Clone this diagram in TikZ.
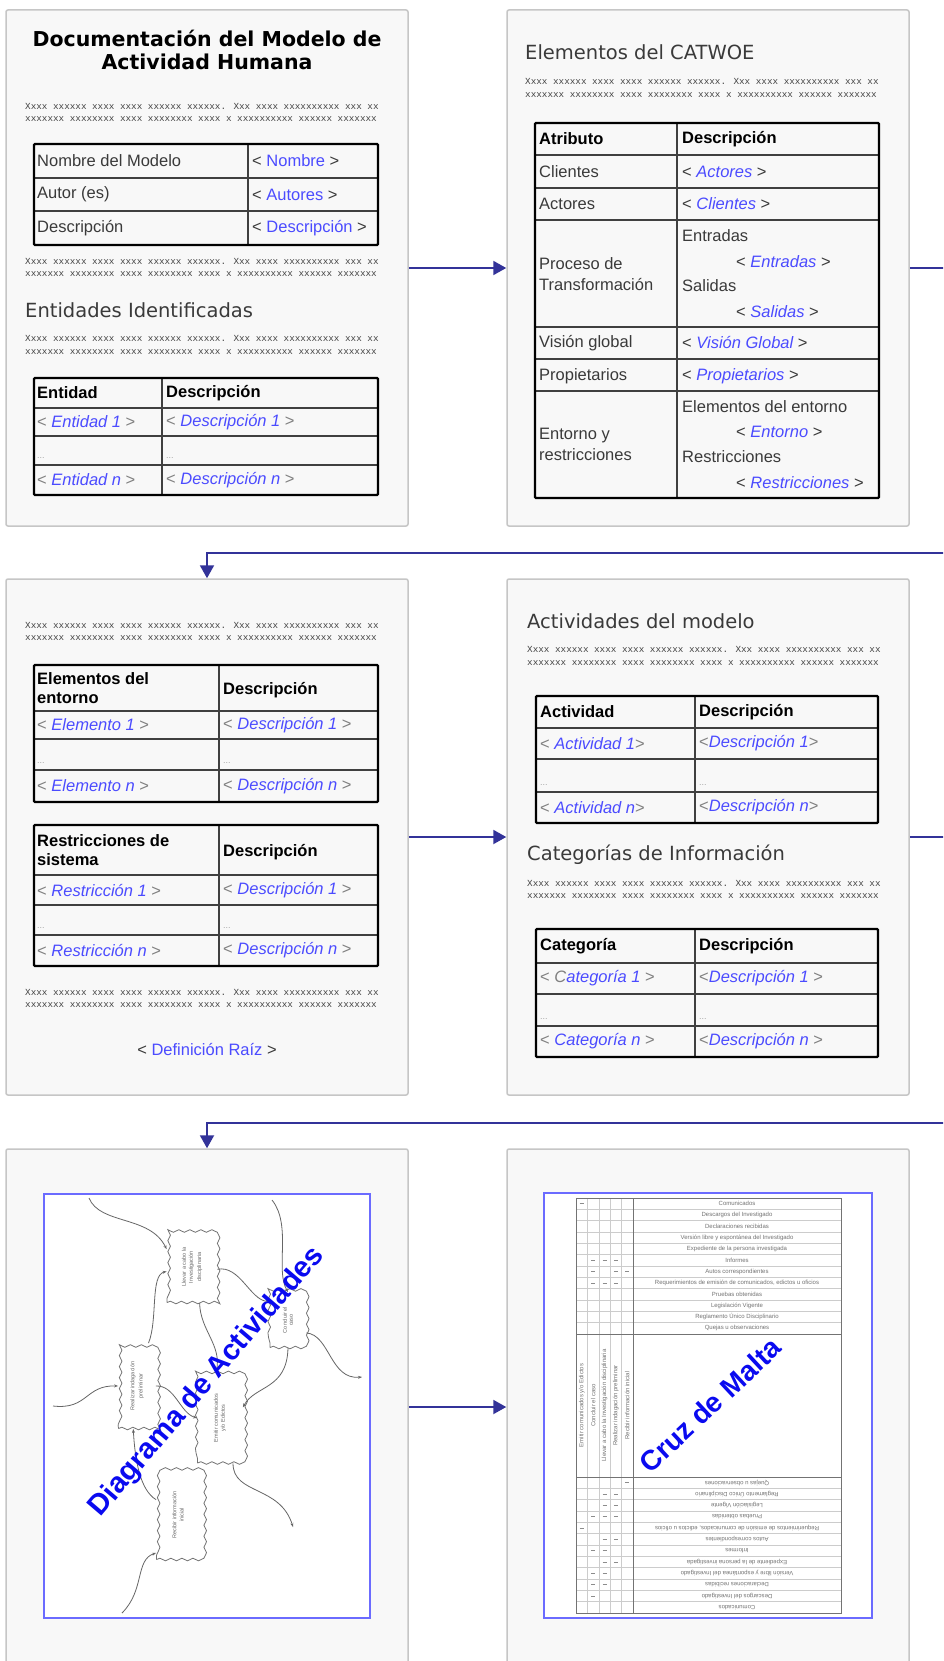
\documentclass[tikz,border=0pt]{standalone}
\usepackage{fontspec}
\setmainfont{Liberation Sans}
\newfontfamily\verdana{DejaVu Sans}
\newfontfamily\fillfont{Liberation Mono}
\usetikzlibrary{arrows.meta}
\usetikzlibrary{decorations.pathmorphing}

\definecolor{flowblue}{HTML}{333399}
\definecolor{phblue}{HTML}{4B4BFF}
\definecolor{pagegray}{HTML}{F8F8F8}
\definecolor{pageline}{HTML}{C6C6C6}
\definecolor{txtgray}{HTML}{3A3A3A}
\definecolor{tagray}{HTML}{808080}
\definecolor{fillgray}{HTML}{444444}
\definecolor{frameblue}{HTML}{6B6BFF}
\definecolor{bigblue}{HTML}{0A0AF0}

\newcommand{\ltag}{{\color{tagray}<}}
\newcommand{\rtag}{{\color{tagray}>}}
\newcommand{\ph}[1]{{\color{phblue}\itshape #1}}
\newcommand{\phup}[1]{{\color{txtgray}<} {\color{phblue}#1} {\color{txtgray}>}}
\newcommand{\phcat}[1]{{\color{txtgray}<} \ph{#1} {\color{txtgray}>}}
\newcommand{\fillerxx}{Xxxx xxxxxx xxxx xxxx xxxxxx xxxxxx. Xxx xxxx xxxxxxxxxx xxx xx\\xxxxxxx xxxxxxxx xxxx xxxxxxxx xxxx x xxxxxxxxxx xxxxxx xxxxxxx}

\tikzset{
page/.style = {rectangle, draw = pageline, fill = pagegray, line width = 1.5pt, rounded corners = 2pt, minimum width = 402pt, minimum height = 516pt},
flow/.style = {draw = flowblue, line width = 2pt, -{Triangle[length = 13pt, width = 14pt]}},
title/.style = {align = center, inner sep = 0pt, font = \verdana\bfseries\fontsize{20.5}{23}\selectfont, text = black},
sechead/.style = {anchor = west, inner sep = 0pt, font = \verdana\fontsize{19.5}{22}\selectfont, text = txtgray},
filler/.style = {anchor = west, align = left, inner sep = 0pt, font = \fillfont\fontsize{9.3}{12.5}\selectfont, text = fillgray},
cell/.style = {anchor = west, align = left, inner sep = 0pt, font = \fontsize{16.5}{20.5}\selectfont, text = txtgray},
headcell/.style = {cell, font = \bfseries\fontsize{16.5}{19}\selectfont, text = black},
dots/.style = {anchor = west, inner sep = 0pt, font = \fontsize{9}{9}\selectfont, text = black!35},
tframe/.style = {draw = black, line width = 2.4pt, rounded corners = 1pt},
tline/.style = {draw = black!75, line width = 1.4pt},
frame/.style = {draw = frameblue, fill = white, line width = 1.3pt},
actbox/.style = {rectangle, draw = black!55, fill = white, line width = 0.8pt, inner sep = 2pt, decorate, decoration = {snake, amplitude = 1.3pt, segment length = 11pt}, font = \fontsize{5.5}{6.5}\selectfont, text = black!60},
actflow/.style = {draw = black!60, line width = 0.8pt, -{Stealth[length = 4pt, width = 3pt]}},
bigtag/.style = {inner sep = 0pt, font = \bfseries\fontsize{29}{29}\selectfont, text = bigblue},
cruzrow/.style = {inner sep = 0pt, font = \fontsize{6}{6}\selectfont, text = black!55},
cruzthin/.style = {draw = black!20, line width = 0.5pt},
cruzline/.style = {draw = black!55, line width = 1pt},
cruzmark/.style = {draw = black!45, line width = 0.6pt},
}

\begin{document}
\begin{tikzpicture}[x = 1pt, y = -1pt]
    \useasboundingbox (0, 0) rectangle (943, 1661);
    \clip (0, 0) rectangle (943, 1661);
    \fill[white] (0, 0) rectangle (943, 1661);

    % pages
    \node[page] (doc) at (207, 268) {};
    \node[page] (catwoe) at (708, 268) {};
    \node[page] (entorno) at (207, 837) {};
    \node[page] (activ) at (708, 837) {};
    \node[page] (diagrama) at (207, 1407) {};
    \node[page] (cruz) at (708, 1407) {};

    % flow between pages
    \coordinate (wrap1) at (207, 553);
    \coordinate (wrap2) at (207, 1123);
    \draw[flow] (doc.east) -- (catwoe.west);
    \draw[flow] (catwoe.east) -- ++(50, 0) |- (wrap1) -- (entorno.north);
    \draw[flow] (entorno.east) -- (activ.west);
    \draw[flow] (activ.east) -- ++(50, 0) |- (wrap2) -- (diagrama.north);
    \draw[flow] (diagrama.east) -- (cruz.west);

    % ---- page 1
    \node[title] (doctitle) at (207, 49.5) {Documentación del Modelo de\\Actividad Humana};
    \node[filler] (docfill1) at (25, 112.5) {\fillerxx};
    \draw[tline] (248, 144) -- (248, 245);
    \draw[tline] (34, 178) -- (378, 178);
    \draw[tline] (34, 211) -- (378, 211);
    \draw[tframe] (34, 144) rectangle (378, 245);
    \node[cell] (mnom) at (37, 161) {Nombre del Modelo};
    \node[cell] (mnomv) at (252, 161) {\phup{Nombre}};
    \node[cell] (maut) at (37, 194.5) {Autor (es)};
    \node[cell] (mautv) at (252, 194.5) {\phup{Autores}};
    \node[cell] (mdes) at (37, 228) {Descripción};
    \node[cell] (mdesv) at (252, 228) {\phup{Descripción}};
    \node[filler] (docfill2) at (25, 267.5) {\fillerxx};
    \node[sechead] (enthead) at (25, 310) {Entidades Identificadas};
    \node[filler] (docfill3) at (25, 345) {\fillerxx};
    \draw[tline] (162, 378) -- (162, 495);
    \draw[tline] (34, 408) -- (378, 408);
    \draw[tline] (34, 436) -- (378, 436);
    \draw[tline] (34, 465) -- (378, 465);
    \draw[tframe] (34, 378) rectangle (378, 495);
    \node[headcell] (enth1) at (37, 393) {Entidad};
    \node[headcell] (enth2) at (166, 393) {Descripción};
    \node[cell] (ent1) at (37, 422) {\ltag{} \ph{Entidad 1} \rtag};
    \node[cell] (ent1d) at (166, 422) {\ltag{} \ph{Descripción 1} \rtag};
    \node[dots] (entdots) at (37, 458) {...};
    \node[dots] (entdotsd) at (166, 458) {...};
    \node[cell] (entn) at (37, 480) {\ltag{} \ph{Entidad n} \rtag};
    \node[cell] (entnd) at (166, 480) {\ltag{} \ph{Descripción n} \rtag};

    % ---- page 2
    \node[sechead] (cathead) at (525, 52) {Elementos del CATWOE};
    \node[filler] (catfill) at (525, 88) {\fillerxx};
    \draw[tline] (677, 123) -- (677, 498);
    \foreach \yy in {155, 188, 220, 327, 359, 391}
        \draw[tline] (535, \yy) -- (879, \yy);
    \draw[tframe] (535, 123) rectangle (879, 498);
    \node[headcell] (cath1) at (539, 139) {Atributo};
    \node[headcell] (cath2) at (682, 139) {Descripción};
    \node[cell] (catc) at (539, 171.5) {Clientes};
    \node[cell] (catcv) at (682, 171.5) {\phcat{Actores}};
    \node[cell] (cata) at (539, 204) {Actores};
    \node[cell] (catav) at (682, 204) {\phcat{Clientes}};
    \node[cell] (catt) at (539, 274) {Proceso de\\Transformación};
    \node[cell] (catt1) at (682, 236) {Entradas};
    \node[cell] (catt1v) at (736, 262) {\phcat{Entradas}};
    \node[cell] (catt2) at (682, 286) {Salidas};
    \node[cell] (catt2v) at (736, 312) {\phcat{Salidas}};
    \node[cell] (catw) at (539, 343) {Visión global};
    \node[cell] (catwv) at (682, 343) {\phcat{Visión Global}};
    \node[cell] (cato) at (539, 376) {Propietarios};
    \node[cell] (catov) at (682, 376) {\phcat{Propietarios}};
    \node[cell] (cate) at (539, 444.5) {Entorno y\\restricciones};
    \node[cell] (cate1) at (682, 407) {Elementos del entorno};
    \node[cell] (cate1v) at (736, 432) {\phcat{Entorno}};
    \node[cell] (cate2) at (682, 457) {Restricciones};
    \node[cell] (cate2v) at (736, 483) {\phcat{Restricciones}};

    % ---- page 3
    \node[filler] (envfill1) at (25, 631.5) {\fillerxx};
    \draw[tline] (219, 665) -- (219, 802);
    \draw[tline] (34, 711) -- (378, 711);
    \draw[tline] (34, 739) -- (378, 739);
    \draw[tline] (34, 770) -- (378, 770);
    \draw[tframe] (34, 665) rectangle (378, 802);
    \node[headcell] (elh1) at (37, 688) {Elementos del\\entorno};
    \node[headcell] (elh2) at (223, 690) {Descripción};
    \node[cell] (el1) at (37, 725) {\ltag{} \ph{Elemento 1} \rtag};
    \node[cell] (el1d) at (223, 725) {\ltag{} \ph{Descripción 1} \rtag};
    \node[dots] (eldots) at (37, 763) {...};
    \node[dots] (eldotsd) at (223, 763) {...};
    \node[cell] (eln) at (37, 786) {\ltag{} \ph{Elemento n} \rtag};
    \node[cell] (elnd) at (223, 786) {\ltag{} \ph{Descripción n} \rtag};
    \draw[tline] (219, 825) -- (219, 966);
    \draw[tline] (34, 875) -- (378, 875);
    \draw[tline] (34, 905) -- (378, 905);
    \draw[tline] (34, 935) -- (378, 935);
    \draw[tframe] (34, 825) rectangle (378, 966);
    \node[headcell] (rsh1) at (37, 850) {Restricciones de\\sistema};
    \node[headcell] (rsh2) at (223, 852) {Descripción};
    \node[cell] (rs1) at (37, 890) {\ltag{} \ph{Restricción 1} \rtag};
    \node[cell] (rs1d) at (223, 890) {\ltag{} \ph{Descripción 1} \rtag};
    \node[dots] (rsdots) at (37, 928) {...};
    \node[dots] (rsdotsd) at (223, 928) {...};
    \node[cell] (rsn) at (37, 950.5) {\ltag{} \ph{Restricción n} \rtag};
    \node[cell] (rsnd) at (223, 950.5) {\ltag{} \ph{Descripción n} \rtag};
    \node[filler] (envfill2) at (25, 998.5) {\fillerxx};
    \node[cell, anchor = center] (raiz) at (207, 1049) {\phup{Definición Raíz}};

    % ---- page 4
    \node[sechead] (acthead) at (527, 621) {Actividades del modelo};
    \node[filler] (actfill) at (527, 656) {\fillerxx};
    \draw[tline] (695, 696) -- (695, 823);
    \draw[tline] (536, 728) -- (878, 728);
    \draw[tline] (536, 759) -- (878, 759);
    \draw[tline] (536, 792) -- (878, 792);
    \draw[tframe] (536, 696) rectangle (878, 823);
    \node[headcell] (acth1) at (540, 712) {Actividad};
    \node[headcell] (acth2) at (699, 712) {Descripción};
    \node[cell] (act1) at (540, 743.5) {\ltag{} \ph{Actividad 1}\rtag};
    \node[cell] (act1d) at (699, 743.5) {\ltag\ph{Descripción 1}\rtag};
    \node[dots] (actdots) at (540, 785) {...};
    \node[dots] (actdotsd) at (699, 785) {...};
    \node[cell] (actn) at (540, 807.5) {\ltag{} \ph{Actividad n}\rtag};
    \node[cell] (actnd) at (699, 807.5) {\ltag\ph{Descripción n}\rtag};
    \node[sechead] (cathd) at (527, 855) {Categorías de Información};
    \node[filler] (catgfill) at (527, 889.5) {\fillerxx};
    \draw[tline] (695, 929) -- (695, 1057);
    \draw[tline] (536, 963) -- (878, 963);
    \draw[tline] (536, 994) -- (878, 994);
    \draw[tline] (536, 1026) -- (878, 1026);
    \draw[tframe] (536, 929) rectangle (878, 1057);
    \node[headcell] (catgh1) at (540, 946) {Categoría};
    \node[headcell] (catgh2) at (699, 946) {Descripción};
    \node[cell] (catg1) at (540, 978.5) {\ltag{} {\color{tagray}\itshape C}\ph{ategoría 1} \rtag};
    \node[cell] (catg1d) at (699, 978.5) {\ltag\ph{Descripción 1} \rtag};
    \node[dots] (catgdots) at (540, 1019) {...};
    \node[dots] (catgdotsd) at (699, 1019) {...};
    \node[cell] (catgn) at (540, 1041.5) {\ltag{} \ph{Categoría n} \rtag};
    \node[cell] (catgnd) at (699, 1041.5) {\ltag\ph{Descripción n} \rtag};

    % ---- page 5: activity diagram
    \draw[frame] (44, 1194) rectangle (370, 1618);
    \node[actbox, minimum width = 50pt, minimum height = 71pt] (b1) at (192, 1267) {\rotatebox{90}{\shortstack{Llevar a cabo la\\Investigación\\disciplinaria}}};
    \node[actbox, minimum width = 36pt, minimum height = 55pt] (b2) at (288, 1320) {\rotatebox{90}{\shortstack{Concluir el\\caso}}};
    \node[actbox, minimum width = 37pt, minimum height = 85pt] (b3) at (137, 1386) {\rotatebox{90}{\shortstack{Realizar indagación\\preliminar}}};
    \node[actbox, minimum width = 45pt, minimum height = 90pt] (b4) at (220, 1418) {\rotatebox{90}{\shortstack{Emitir comunicados\\y/o Edictos}}};
    \node[actbox, minimum width = 43pt, minimum height = 89pt] (b5) at (178, 1515) {\rotatebox{90}{\shortstack{Recibir información\\inicial}}};
    \coordinate (in1) at (89, 1198);
    \coordinate (in2) at (272, 1200);
    \coordinate (in3) at (53, 1406);
    \coordinate (in4) at (122, 1613);
    \coordinate (out1) at (362, 1377);
    \coordinate (out2) at (293, 1527);
    \draw[actflow] (in1) .. controls (100, 1225) and (150, 1215) .. (b1.145);
    \draw[actflow] (in2) .. controls (292, 1225) and (275, 1270) .. (b2.north);
    \draw[actflow] (b1.-5) .. controls (240, 1265) and (250, 1300) .. (b2.135);
    \draw[actflow] (b1.-78) .. controls (200, 1330) and (222, 1345) .. (b4.95);
    \draw[actflow] (b3.75) .. controls (158, 1320) and (150, 1275) .. (b1.190);
    \draw[actflow] (in3) .. controls (88, 1410) and (85, 1385) .. (b3.west);
    \draw[actflow] (b3.east) .. controls (175, 1385) and (180, 1413) .. (b4.west);
    \draw[actflow] (b2.-35) .. controls (330, 1335) and (330, 1380) .. (out1);
    \draw[actflow] (b2.south) .. controls (287, 1390) and (255, 1385) .. (b4.25);
    \draw[actflow] (b4.-74) .. controls (233, 1495) and (280, 1485) .. (out2);
    \draw[actflow] (b5.145) .. controls (140, 1490) and (135, 1460) .. (b3.-95);
    \draw[actflow] (in4) .. controls (145, 1590) and (135, 1560) .. (b5.240);
    \node[bigtag, rotate = 49.5] (diagtag) at (207, 1382) {Diagrama de Actividades};

    % ---- page 6: cruz de malta
    \draw[frame] (544, 1193) rectangle (872, 1618);
    \foreach \i in {1, ..., 11} {
        \draw[cruzthin] (576, {1198 + \i * 11.33}) -- (841, {1198 + \i * 11.33});
        \draw[cruzthin] (576, {1477 + \i * 11.33}) -- (841, {1477 + \i * 11.33});
    }
    \foreach \c in {1, ..., 4}
        \draw[cruzthin] ({576 + \c * 11.4}, 1198) -- ({576 + \c * 11.4}, 1613);
    \draw[cruzline] (633, 1198) -- (633, 1613);
    \draw[cruzline] (576, 1334) -- (841, 1334);
    \draw[cruzline] (576, 1477) -- (841, 1477);
    \draw[cruzline] (576, 1198) rectangle (841, 1613);
    \foreach \lbl [count = \i] in {Comunicados, Descargos del Investigado, Declaraciones recibidas, Versión libre y espontánea del Investigado, Expediente de la persona investigada, Informes, Autos correspondientes, {Requerimientos de emisión de comunicados, edictos u oficios}, Pruebas obtenidas, Legislación Vigente, Reglamento Único Disciplinario, Quejas u observaciones} {
        \node[cruzrow] (top\i) at (737, {1198 + (\i - 0.5) * 11.33}) {\lbl};
        \node[cruzrow, rotate = 180] (bot\i) at (737, {1613 - (\i - 0.5) * 11.33}) {\lbl};
    }
    \foreach \lbl [count = \c] in {Emitir comunicados y/o Edictos, Concluir el caso, Llevar a cabo la Investigación disciplinaria, Realizar indagación preliminar, Recibir información inicial}
        \node[cruzrow, rotate = 90] (col\c) at ({576 + (\c - 0.5) * 11.4}, 1405.5) {\lbl};
    \foreach \r/\c in {1/1, 6/2, 6/3, 6/4, 7/2, 7/4, 7/5, 8/2, 8/3, 8/4}
        \draw[cruzmark] ({576 + (\c - 0.5) * 11.4 - 2}, {1198 + (\r - 0.5) * 11.33}) -- ++(4, 0);
    \foreach \r/\c in {2/2, 3/2, 3/3, 4/2, 4/3, 5/3, 5/4, 6/2, 6/3, 7/3, 7/4, 8/1, 9/2, 9/3, 9/4, 10/3, 10/4, 11/3, 11/4, 12/5}
        \draw[cruzmark] ({576 + (\c - 0.5) * 11.4 - 2}, {1613 - (\r - 0.5) * 11.33}) -- ++(4, 0);
    \node[bigtag, rotate = 43, font = \bfseries\fontsize{28}{28}\selectfont] (cruztag) at (710, 1405) {Cruz de Malta};
\end{tikzpicture}
\end{document}
